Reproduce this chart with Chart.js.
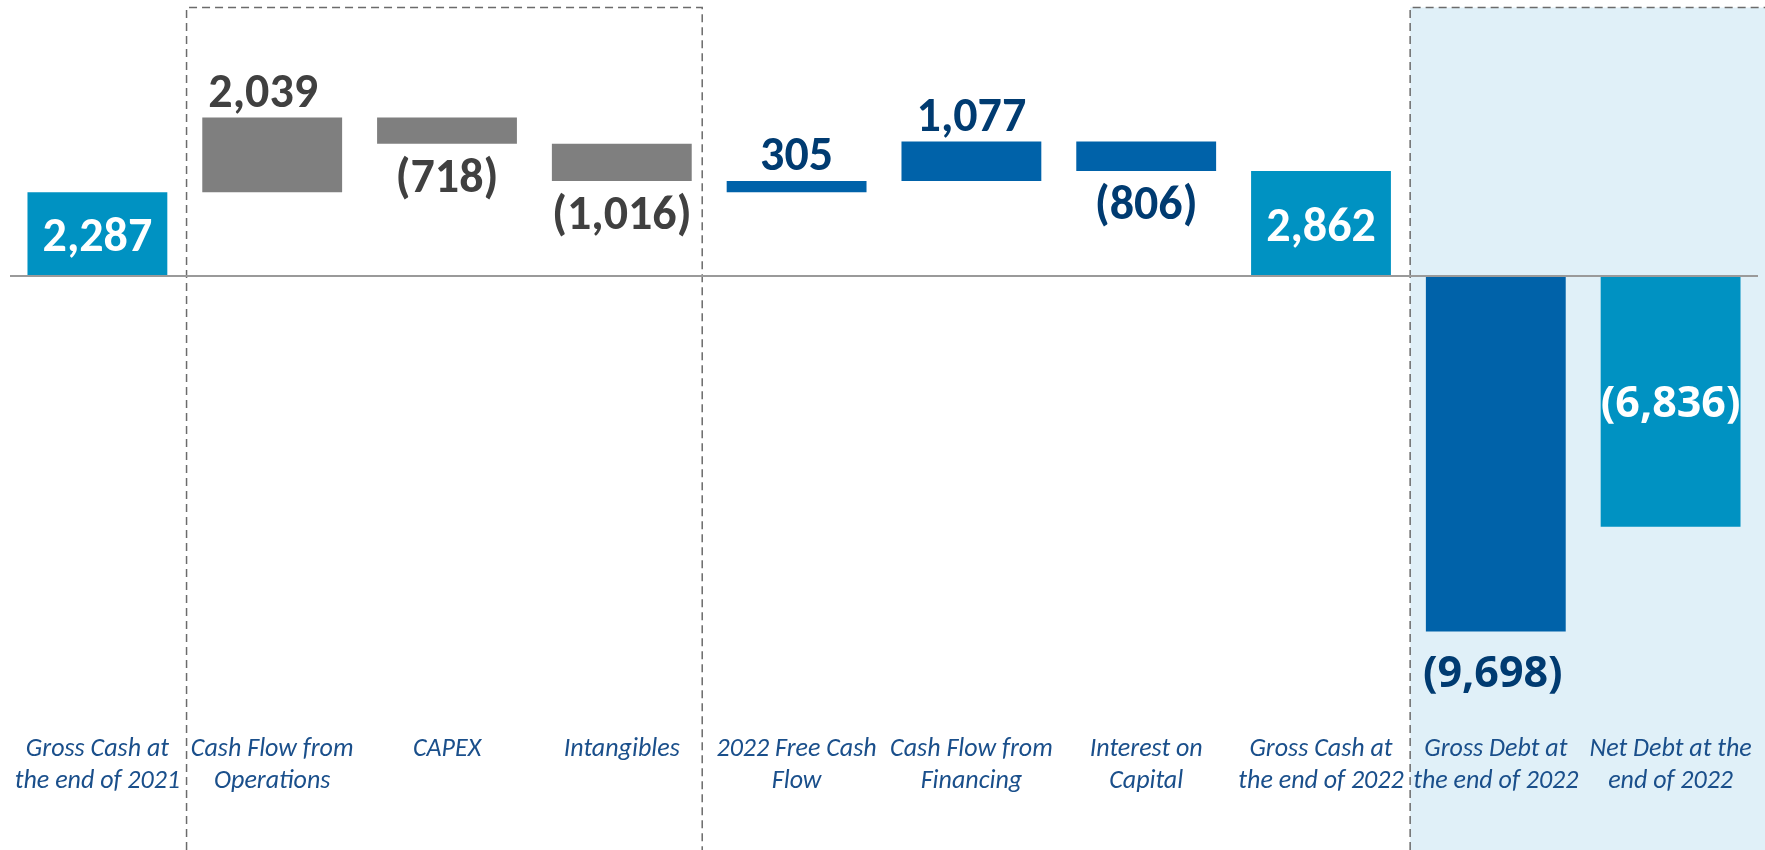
<!DOCTYPE html>
<html>
<head>
<meta charset="utf-8">
<script src="https://cdn.jsdelivr.net/npm/chart.js@4"></script>
<style>
  html, body { margin: 0; padding: 0; background: #ffffff; }
  #wrap { width: 1765px; height: 850px; position: relative; }
</style>
</head>
<body>
<div id="wrap"><canvas id="flowChart"></canvas></div>
<script>
  const categories = [
    ["Gross Cash at", "the end of 2021"],
    ["Cash Flow from", "Operations"],
    ["CAPEX"],
    ["Intangibles"],
    ["2022 Free Cash", "Flow"],
    ["Cash Flow from", "Financing"],
    ["Interest on", "Capital"],
    ["Gross Cash at", "the end of 2022"],
    ["Gross Debt at", "the end of 2022"],
    ["Net Debt at the", "end of 2022"],
  ];
  // values in the chart, (x) means negative
  const values = [2287, 2039, -718, -1016, 305, 1077, -806, 2862, -9698, -6836];
  // total = bar from zero, step = moves the running sum, subtotal = net of the steps before it
  const kinds = ["total", "step", "step", "step", "subtotal", "step", "step", "total", "total", "total"];

  const CYAN = "#0092c2", GRAY = "#7f7f7f", BLUE = "#0062a9";
  const barColors = [CYAN, GRAY, GRAY, GRAY, BLUE, BLUE, BLUE, CYAN, BLUE, CYAN];
  const labelColors = ["#ffffff", "#404040", "#404040", "#404040", "#003b71", "#003b71", "#003b71", "#ffffff", "#003b71", "#ffffff"];
  const labelPlace = ["inside", "above", "below", "below", "above", "above", "below", "inside", "below", "inside"];
  const labelShift = [0, -9, 0, 0, 0, 0, 0, 0, -3, 0];

  // build the floating ranges of the waterfall
  let running = 0;
  const ranges = values.map((v, i) => {
    if (kinds[i] === "total") {
      running = v;
      return [0, v];
    }
    if (kinds[i] === "subtotal") {
      return [running - v, running];
    }
    const start = running;
    running += v;
    return [start, running];
  });

  const fmt = (v) => {
    const s = Math.abs(v).toLocaleString("en-US");
    return v < 0 ? `(${s})` : s;
  };

  const narrowFont = '"Liberation Sans Narrow", Carlito, "Liberation Sans", sans-serif';

  const decorPlugin = {
    id: "decor",
    beforeDraw(chart) {
      const { ctx, scales: { x } } = chart;
      const H = chart.height, W = chart.width;
      const box1L = x.getPixelForValue(0.51);
      const box1R = x.getPixelForValue(3.46);
      const box2L = x.getPixelForValue(7.51);
      const top = 7.5;
      ctx.save();
      ctx.fillStyle = "#e0f0f8";
      ctx.fillRect(box2L, top, W - box2L, H - top);
      ctx.strokeStyle = "#6b6b6b";
      ctx.lineWidth = 1.5;
      ctx.setLineDash([8, 5]);
      ctx.beginPath();
      ctx.moveTo(box1L, H);
      ctx.lineTo(box1L, top);
      ctx.lineTo(box1R, top);
      ctx.lineTo(box1R, H);
      ctx.moveTo(box2L, H);
      ctx.lineTo(box2L, top);
      ctx.lineTo(W, top);
      ctx.stroke();
      ctx.restore();
    },
    afterDatasetsDraw(chart) {
      const { ctx, chartArea, scales: { y } } = chart;
      const y0 = y.getPixelForValue(0);
      ctx.save();
      ctx.strokeStyle = "#9a9a9a";
      ctx.lineWidth = 2;
      ctx.beginPath();
      ctx.moveTo(chartArea.left, y0);
      ctx.lineTo(chartArea.right, y0);
      ctx.stroke();

      const meta = chart.getDatasetMeta(0);
      ctx.textAlign = "center";
      ctx.textBaseline = "alphabetic";
      meta.data.forEach((bar, i) => {
        const wide = i >= 8;
        const size = wide ? 43 : 48;
        const capH = size * (wide ? 0.714 : 0.716);
        ctx.font = wide ? `bold ${size}px "Open Sans", sans-serif` : `bold ${size}px ${narrowFont}`;
        ctx.fillStyle = labelColors[i];
        const topY = Math.min(bar.y, bar.base);
        const botY = Math.max(bar.y, bar.base);
        let yc;
        if (labelPlace[i] === "inside") yc = (topY + botY) / 2;
        else if (labelPlace[i] === "above") yc = topY - 28;
        else yc = botY + (wide ? 40 : 31);
        ctx.fillText(fmt(values[i]), bar.x + labelShift[i], yc + capH / 2);
      });
      ctx.restore();
    }
  };

  const ctx = document.getElementById("flowChart").getContext("2d");
  new Chart(ctx, {
    type: "bar",
    data: {
      labels: categories,
      datasets: [{
        data: ranges,
        backgroundColor: barColors,
        borderWidth: 0,
        borderSkipped: false,
        barPercentage: 0.8,
        categoryPercentage: 1.0,
      }],
    },
    options: {
      responsive: true,
      maintainAspectRatio: false,
      animation: false,
      layout: { padding: { left: 10, right: 7, top: 0, bottom: 0 } },
      plugins: {
        legend: { display: false },
        tooltip: { enabled: false },
      },
      scales: {
        x: {
          grid: { display: false, drawTicks: false },
          border: { display: false },
          ticks: {
            padding: 19,
            color: "#1a4f8b",
            maxRotation: 0,
            autoSkip: false,
            font: { family: narrowFont, style: "italic", size: 26, lineHeight: 1.21 },
          },
          afterFit(axis) {
            axis.height = 135;
            axis.paddingLeft = 0;
            axis.paddingRight = 0;
          },
        },
        y: {
          display: false,
          min: -11972,
          max: 7527,
        },
      },
    },
    plugins: [decorPlugin],
  });
</script>
</body>
</html>
